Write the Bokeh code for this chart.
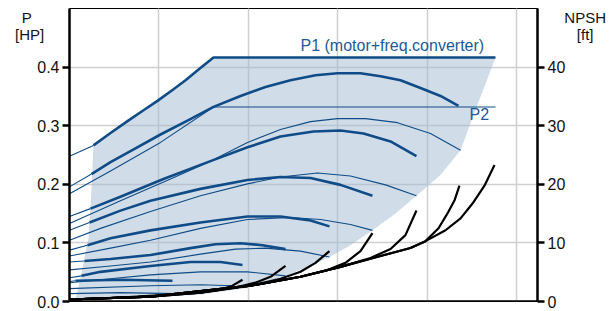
from bokeh.plotting import figure
from bokeh.models import Range1d, LinearAxis, FixedTicker, Label, Span, Grid, NumeralTickFormatter
from bokeh.embed import file_html
from bokeh.resources import INLINE

# ---------------- data (flow in grid units, power in HP, NPSH in ft) -------------
# P1 limit line (motor+freq.converter)
p1lim_x = [0, 0.268, 0.459, 0.649, 0.828, 0.984, 1.152, 1.298, 1.454, 1.611, 4.765]
p1lim_p = [0.248, 0.2664, 0.2875, 0.3078, 0.3263, 0.3423, 0.3609, 0.3777, 0.3971, 0.4165, 0.4165]

# P1 curves per speed (thick)
p1_x = [
    [0, 0.246, 0.459, 0.738, 1.018, 1.320, 1.611, 1.913, 2.192, 2.472, 2.752, 2.998,
     3.255, 3.479, 3.702, 3.926, 4.150, 4.351],
    [0, 0.235, 0.570, 1.051, 1.577, 1.991, 2.360, 2.729, 3.031, 3.289, 3.591, 3.881],
    [0, 0.224, 0.570, 0.906, 1.465, 1.991, 2.360, 2.696, 3.031, 3.389],
    [0, 0.201, 0.459, 0.906, 1.465, 1.991, 2.360, 2.696, 2.908],
    [0, 0.168, 0.459, 0.906, 1.353, 1.633, 1.913, 2.159, 2.416],
    [0, 0.134, 0.347, 0.906, 1.353, 1.689, 1.935],
    [0, 0.067, 0.570, 1.152],
]
p1_p = [
    [0.1956, 0.2175, 0.2378, 0.2614, 0.2850, 0.3086, 0.3322, 0.3508, 0.3659, 0.3777, 0.3862,
     0.3895, 0.3895, 0.3845, 0.3777, 0.3642, 0.3508, 0.3339],
    [0.1450, 0.1585, 0.1788, 0.2091, 0.2395, 0.2631, 0.2816, 0.2900, 0.2917, 0.2867, 0.2732, 0.2479],
    [0.1214, 0.1349, 0.1551, 0.1720, 0.1922, 0.2074, 0.2125, 0.2108, 0.1990, 0.1804],
    [0.0877, 0.0961, 0.1079, 0.1214, 0.1349, 0.1450, 0.1450, 0.1383, 0.1282],
    [0.0675, 0.0691, 0.0725, 0.0793, 0.0911, 0.0978, 0.0995, 0.0961, 0.0894],
    [0.0405, 0.0438, 0.0506, 0.0607, 0.0675, 0.0675, 0.0624],
    [0.034, 0.0354, 0.0371, 0.0354],
]

# P2 curves per speed (thin)
p2_x = [
    [0, 0.459, 1.018, 1.611, 4.765],
    [0, 0.570, 1.130, 1.577, 1.991, 2.360, 2.696, 2.998, 3.311, 3.669, 4.038, 4.374],
    [0, 0.347, 0.906, 1.465, 1.991, 2.360, 2.774, 3.143, 3.535, 3.881],
    [0, 0.459, 0.906, 1.465, 1.991, 2.472, 2.808, 3.143, 3.389],
    [0, 0.459, 0.906, 1.465, 1.857, 2.192, 2.584, 2.908],
    [0, 0.459, 0.906, 1.465, 1.991, 2.416],
    [0, 0.906, 1.465, 1.834],
    [0, 0.570, 1.163],
]
p2_p = [
    [0.1838, 0.2226, 0.2715, 0.332, 0.332],
    [0.1332, 0.1720, 0.2091, 0.2395, 0.2715, 0.2934, 0.3069, 0.3120, 0.3120, 0.3052, 0.2867, 0.2580],
    [0.1046, 0.1248, 0.1535, 0.1804, 0.2007, 0.2125, 0.2192, 0.2142, 0.1990, 0.1804],
    [0.0776, 0.0911, 0.1046, 0.1248, 0.1400, 0.1433, 0.1400, 0.1315, 0.1214],
    [0.0540, 0.0607, 0.0675, 0.0809, 0.0894, 0.0911, 0.0860, 0.0759],
    [0.0320, 0.0388, 0.0455, 0.0506, 0.0506, 0.0438],
    [0.0219, 0.027, 0.0287, 0.027],
    [0.0135, 0.0152, 0.0135],
]

# operating area: right / bottom / left border (top border = P1 limit line)
edge_x = [4.653, 4.541, 4.452, 4.374, 4.150, 3.881, 3.647, 3.389, 3.143, 2.908, 2.640,
          2.416, 2.192, 1.935, 1.465, 0.906, 0.067, 0.123, 0.2125, 0.246]
edge_p = [0.371, 0.327, 0.290, 0.258, 0.2158, 0.1804, 0.150, 0.1214, 0.0961, 0.0759, 0.0573,
          0.0438, 0.032, 0.0219, 0.0118, 0.0067, 0.0034, 0.0405, 0.108, 0.1922]

# NPSH curves per speed (right axis, ft)
npsh_x = [
    [0, 0.570, 1.130, 1.465, 1.689, 1.823, 1.935],
    [0, 0.906, 1.465, 1.857, 2.081, 2.248, 2.416],
    [0, 0.906, 1.465, 2.025, 2.360, 2.584, 2.752, 2.908],
    [0, 0.906, 2.025, 2.584, 2.864, 3.087, 3.255, 3.389],
    [0, 0.906, 2.025, 2.584, 3.031, 3.367, 3.591, 3.758, 3.881],
    [0, 0.906, 2.025, 2.584, 3.031, 3.479, 3.814, 3.982, 4.128, 4.228, 4.306, 4.362],
    [0, 0.906, 2.025, 2.584, 3.031, 3.479, 3.814, 3.982, 4.206, 4.374, 4.508, 4.642, 4.754],
]
npsh_ft = [
    [0.34, 0.68, 1.18, 1.52, 2.03, 2.70, 3.72],
    [0.34, 0.84, 1.52, 2.36, 3.21, 4.22, 6.08],
    [0.34, 0.84, 1.52, 2.70, 3.89, 5.07, 6.59, 8.61],
    [0.34, 0.84, 2.70, 4.22, 5.24, 6.59, 8.61, 11.66],
    [0.34, 0.84, 2.70, 4.22, 5.91, 7.43, 8.95, 11.32, 15.54],
    [0.34, 0.84, 2.70, 4.22, 5.91, 7.77, 9.12, 10.30, 12.50, 15.03, 17.23, 19.76],
    [0.34, 0.84, 2.70, 4.22, 5.91, 7.77, 9.12, 10.30, 12.16, 14.19, 16.72, 19.76, 23.31],
]

p_ticks = [0.0, 0.1, 0.2, 0.3, 0.4]
npsh_ticks = [0, 10, 20, 30, 40]
x_grid = [1, 2, 3, 4, 5]

# ---------------- styling ----------------
FONT = "Liberation Sans"
BLUE = "#0f4c87"
TXT_BLUE = "#1d5a97"
SHADE = "#a1b9d1"
INK = "#111111"
NB = "\u00a0"

p = figure(width=613, height=311, x_range=Range1d(0, 5.235), y_range=Range1d(0, 0.5),
           output_backend="svg", toolbar_location=None,
           x_axis_location=None, y_axis_location="left",
           min_border_left=69, min_border_right=76, min_border_top=8, min_border_bottom=10)
p.extra_y_ranges = {"npsh": Range1d(0, 50)}

p.outline_line_color = "black"
p.outline_line_width = 1


def style_axis(a, label, standoff):
    a.axis_line_width = 2.5
    a.major_tick_line_width = 2.5
    a.major_tick_out = 7
    a.major_tick_in = 0
    a.minor_tick_line_color = None
    a.major_label_standoff = 3
    a.major_label_text_font = FONT
    a.major_label_text_font_size = "16px"
    a.major_label_text_color = INK
    a.axis_label = label
    a.axis_label_text_font = FONT
    a.axis_label_text_font_size = "15px"
    a.axis_label_text_font_style = "normal"
    a.axis_label_text_color = INK
    a.axis_label_text_line_height = 1.0
    a.axis_label_orientation = "horizontal"
    a.axis_label_standoff = standoff
    if "axis_label_align" in a.properties():
        a.axis_label_align = "end"


ax = p.yaxis[0]
ax.ticker = FixedTicker(ticks=p_ticks)
ax.formatter = NumeralTickFormatter(format="0.0")
style_axis(ax, " \n \nP" + NB * 3 + "\n[HP]", -10)

rax = LinearAxis(y_range_name="npsh", ticker=FixedTicker(ticks=npsh_ticks))
style_axis(rax, " \n \nNPSH\n" + NB * 3 + "[ft]", -4)
p.add_layout(rax, "right")

p.ygrid.ticker = FixedTicker(ticks=p_ticks[1:])
p.ygrid.grid_line_color = "#cfcfcf"
p.ygrid.grid_line_width = 1.5
p.add_layout(Grid(dimension=0, ticker=FixedTicker(ticks=x_grid),
                  grid_line_color="#cfcfcf", grid_line_width=1.5))

p.add_layout(Span(location=0, dimension="width", line_color="black", line_width=2.5))

# shaded operating area
p.patch(p1lim_x[1:] + edge_x, p1lim_p[1:] + edge_p, fill_color=SHADE, fill_alpha=0.5,
        line_color=None)

# P2 (thin)
for xs, ps in zip(p2_x, p2_p):
    p.line(xs, ps, line_color=BLUE, line_width=1.1, line_join="round")

# P1 (thick inside area, thin outside)
for xs, ps in zip(p1_x + [p1lim_x], p1_p + [p1lim_p]):
    p.line(xs[:2], ps[:2], line_color=BLUE, line_width=1.1)
    p.line(xs[1:], ps[1:], line_color=BLUE, line_width=2.6, line_join="round")

# NPSH (black)
for xs, fs in zip(npsh_x, npsh_ft):
    p.line(xs, fs, line_color="black", line_width=2.2, y_range_name="npsh", line_join="round")

# texts inside the plot
p.add_layout(Label(x=2.584, y=0.437, text="P1 (motor+freq.converter)", text_font=FONT,
                   text_font_size="16px", text_color=TXT_BLUE, text_baseline="alphabetic"))
p.add_layout(Label(x=4.474, y=0.319, text="P2", text_font=FONT,
                   text_font_size="16px", text_color=TXT_BLUE, text_baseline="alphabetic"))

open("out.html", "w").write(file_html(p, INLINE))
